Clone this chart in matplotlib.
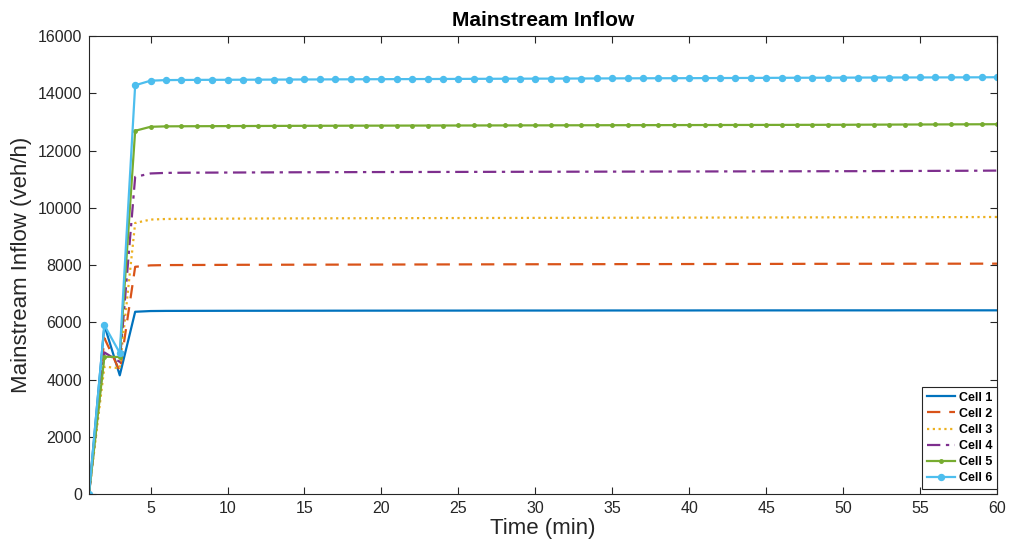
import matplotlib
matplotlib.use("Agg")
import matplotlib.pyplot as plt

time_min = list(range(1, 61))

cell1 = [0, 5900, 4150, 6370, 6395, 6400, 6401, 6402, 6403, 6404,
         6405, 6405, 6406, 6406, 6407, 6407, 6408, 6408, 6409, 6409,
         6410, 6410, 6411, 6411, 6411, 6412, 6412, 6412, 6413, 6413,
         6413, 6414, 6414, 6414, 6415, 6415, 6415, 6416, 6416, 6416,
         6417, 6417, 6417, 6417, 6418, 6418, 6418, 6418, 6419, 6419,
         6419, 6419, 6419, 6420, 6420, 6420, 6420, 6420, 6420, 6420]
cell2 = [0, 5450, 4300, 7940, 7990, 8000, 8002, 8004, 8006, 8008,
         8010, 8011, 8012, 8013, 8014, 8015, 8016, 8017, 8018, 8019,
         8020, 8021, 8022, 8023, 8024, 8025, 8026, 8027, 8028, 8029,
         8030, 8030, 8031, 8032, 8033, 8034, 8035, 8035, 8036, 8037,
         8038, 8039, 8040, 8040, 8041, 8042, 8043, 8044, 8044, 8045,
         8046, 8046, 8047, 8047, 8048, 8048, 8049, 8049, 8050, 8050]
cell3 = [0, 4450, 4400, 9470, 9590, 9610, 9615, 9618, 9620, 9622,
         9624, 9626, 9628, 9630, 9631, 9632, 9634, 9635, 9636, 9638,
         9639, 9640, 9641, 9642, 9643, 9644, 9645, 9646, 9647, 9648,
         9649, 9650, 9651, 9652, 9653, 9654, 9655, 9656, 9657, 9658,
         9659, 9660, 9661, 9662, 9663, 9664, 9665, 9666, 9667, 9668,
         9669, 9670, 9671, 9672, 9673, 9674, 9675, 9676, 9678, 9680]
cell4 = [0, 4950, 4620, 11080, 11200, 11220, 11225, 11228, 11230, 11232,
         11234, 11236, 11238, 11240, 11242, 11243, 11245, 11246, 11248, 11249,
         11250, 11251, 11252, 11253, 11254, 11255, 11256, 11257, 11258, 11259,
         11260, 11261, 11262, 11263, 11264, 11265, 11266, 11267, 11268, 11269,
         11270, 11271, 11272, 11273, 11274, 11275, 11276, 11277, 11278, 11279,
         11280, 11282, 11284, 11286, 11288, 11290, 11292, 11294, 11297, 11300]
cell5 = [0, 4800, 4790, 12690, 12830, 12845, 12848, 12850, 12852, 12854,
         12856, 12858, 12860, 12862, 12864, 12865, 12866, 12868, 12869, 12870,
         12871, 12872, 12873, 12874, 12875, 12876, 12877, 12878, 12879, 12880,
         12881, 12882, 12883, 12884, 12885, 12886, 12887, 12888, 12889, 12890,
         12891, 12892, 12893, 12894, 12895, 12896, 12897, 12898, 12899, 12900,
         12902, 12904, 12906, 12908, 12910, 12912, 12914, 12916, 12918, 12920]
cell6 = [0, 5900, 4930, 14280, 14440, 14460, 14465, 14468, 14470, 14472,
         14474, 14476, 14478, 14480, 14482, 14484, 14486, 14488, 14490, 14492,
         14494, 14496, 14498, 14500, 14502, 14504, 14506, 14508, 14510, 14511,
         14512, 14514, 14516, 14518, 14520, 14522, 14524, 14525, 14526, 14528,
         14530, 14532, 14534, 14536, 14538, 14540, 14542, 14543, 14544, 14546,
         14548, 14550, 14551, 14552, 14553, 14554, 14555, 14556, 14558, 14560]

labels = ["Cell 1", "Cell 2", "Cell 3", "Cell 4", "Cell 5", "Cell 6"]
x_ticks = list(range(5, 61, 5))
y_ticks = list(range(0, 16001, 2000))

plt.rcParams['font.family'] = ['Liberation Sans', 'DejaVu Sans']

fig = plt.figure(figsize=(10.09, 5.54), dpi=100)
ax = fig.add_axes([0.0882, 0.108, 0.8999, 0.827])

lw = 1.6
ax.plot(time_min, cell1, color='#0072BD', lw=lw, ls='-', label=labels[0])
ax.plot(time_min, cell2, color='#D95319', lw=lw, ls=(0, (6, 4)), label=labels[1])
ax.plot(time_min, cell3, color='#EDB120', lw=lw, ls=(0, (1, 1.6)), label=labels[2])
ax.plot(time_min, cell4, color='#7E2F8E', lw=lw, ls=(0, (6, 2.5, 1.5, 2.5)), label=labels[3])
ax.plot(time_min, cell5, color='#77AC30', lw=lw, ls='-', marker='.', ms=5, label=labels[4])
ax.plot(time_min, cell6, color='#4DBEEE', lw=lw, ls='-', marker='o', ms=4.3, label=labels[5])

ax.set_xlim(1, 60)
ax.set_ylim(0, 16000)
ax.set_xticks(x_ticks)
ax.set_yticks(y_ticks)
ax.tick_params(direction='in', top=True, right=True, labelsize=11.5, length=5,
               color='#262626', labelcolor='#262626', pad=5)
for s in ax.spines.values():
    s.set_color('#262626')
    s.set_linewidth(0.8)

ax.set_title("Mainstream Inflow", fontsize=15, fontweight='bold', pad=7)
ax.set_xlabel("Time (min)", fontsize=16, color='#262626', labelpad=1)
ax.set_ylabel("Mainstream Inflow (veh/h)", fontsize=16, color='#262626', labelpad=4)

leg = ax.legend(loc='lower right', bbox_to_anchor=(1.0, 0.012),
                prop={'weight': 'bold', 'size': 9},
                fancybox=False, edgecolor='#262626', framealpha=1,
                handlelength=2.3, borderaxespad=0.0, labelspacing=0.33,
                handletextpad=0.3, borderpad=0.35)
leg.get_frame().set_linewidth(0.8)

fig.savefig("out.png", dpi=100)
